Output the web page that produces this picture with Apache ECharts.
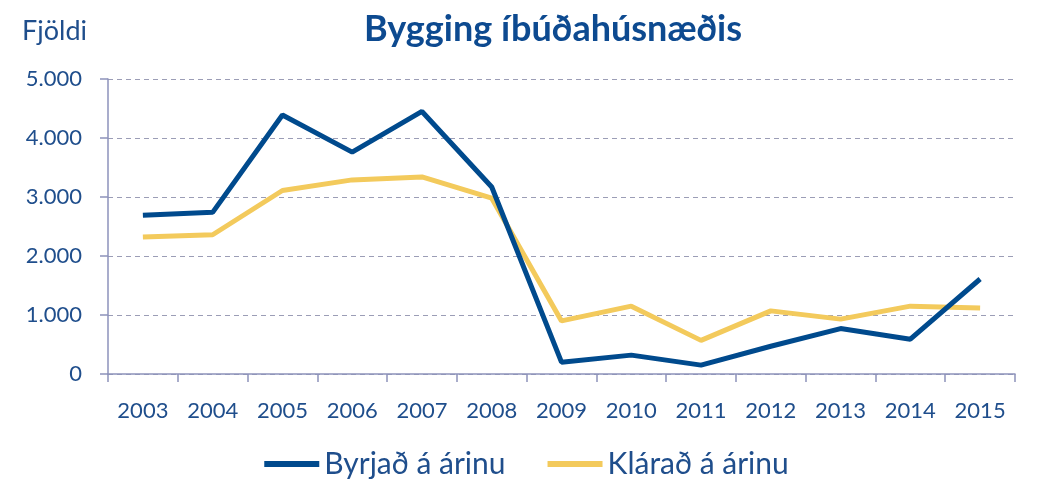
<!DOCTYPE html>
<html><head><meta charset="utf-8">
<script src="https://cdn.jsdelivr.net/npm/echarts@6/dist/echarts.min.js"></script>
<style>html,body{margin:0;padding:0;background:#fff}#c{width:1053px;height:482px}</style>
</head><body><div id="c"></div>
<script>
const years = ['2003','2004','2005','2006','2007','2008','2009','2010','2011','2012','2013','2014','2015'];
const byrjad = [2690, 2740, 4390, 3760, 4450, 3170, 200, 320, 150, 470, 770, 590, 1610];
const klarad = [2320, 2360, 3110, 3290, 3340, 2980, 900, 1150, 570, 1070, 930, 1150, 1120];
const seriesNames = ['Byrjað á árinu', 'Klárað á árinu'];

const txt = '#1f4e8c';
const axisCol = '#8d92bb';
const font = 'Lato';
const chart = echarts.init(document.getElementById('c'));
chart.setOption({
  animation: false,
  title: {
    text: 'Bygging íbúðahúsnæðis', left: 548, top: 6, textAlign: 'center',
    textStyle: {fontFamily: font, fontSize: 36, fontWeight: 'bold', color: '#0d4a90'}
  },
  graphic: [{type: 'text', left: 22, top: 18, style: {text: 'Fjöldi', fontFamily: font, fontSize: 27, fill: txt}}],
  legend: {
    bottom: -2, left: 'center', itemGap: 42, itemWidth: 55, itemHeight: 6,
    icon: 'rect',
    textStyle: {fontFamily: font, fontSize: 30, color: txt},
    data: seriesNames
  },
  grid: {left: 108, right: 38, top: 79, bottom: 108},
  xAxis: {
    type: 'category', data: years, boundaryGap: true,
    axisLine: {lineStyle: {color: axisCol, width: 1.5}},
    axisTick: {show: true, length: 8, lineStyle: {color: axisCol, width: 1.5}},
    axisLabel: {fontFamily: font, fontSize: 22, color: txt, margin: 26}
  },
  yAxis: {
    type: 'value', min: 0, max: 5000, interval: 1000,
    axisLine: {show: true, lineStyle: {color: axisCol, width: 1.5}},
    axisTick: {show: true, length: 8, lineStyle: {color: axisCol, width: 1.5}},
    axisLabel: {fontFamily: font, fontSize: 22, color: txt, margin: 26,
      formatter: v => v === 0 ? '0' : v.toLocaleString('de-DE')},
    splitLine: {lineStyle: {color: '#9b9db6', type: [5, 4], width: 1.2}}
  },
  series: [
    {name: seriesNames[0], type: 'line', data: byrjad, symbol: 'none',
     lineStyle: {width: 5, color: '#004a8d'}, itemStyle: {color: '#004a8d'}, z: 3},
    {name: seriesNames[1], type: 'line', data: klarad, symbol: 'none',
     lineStyle: {width: 5, color: '#f3ca5c'}, itemStyle: {color: '#f3ca5c'}, z: 2}
  ]
});
</script></body></html>
